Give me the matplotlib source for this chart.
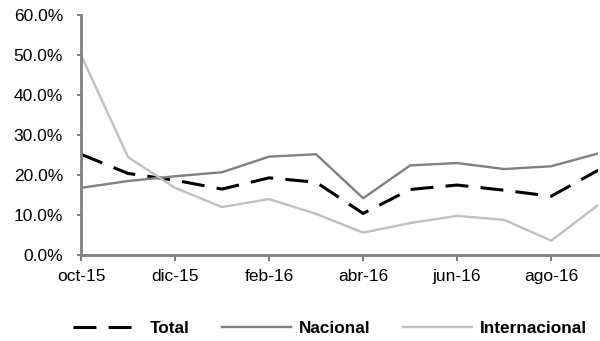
import numpy as np
import matplotlib.pyplot as plt
from matplotlib.ticker import FuncFormatter

plt.rcParams['font.family'] = ['Liberation Sans', 'DejaVu Sans']

meses = ['oct-15', 'nov-15', 'dic-15', 'ene-16', 'feb-16', 'mar-16',
         'abr-16', 'may-16', 'jun-16', 'jul-16', 'ago-16', 'sep-16']
total = [25.2, 20.4, 18.7, 16.5, 19.3, 18.2, 10.4, 16.4, 17.5, 16.2, 14.7, 21.2]
nacional = [16.8, 18.5, 19.7, 20.7, 24.6, 25.2, 14.2, 22.4, 23.0, 21.5, 22.2, 25.4]
internacional = [50.0, 24.5, 16.8, 12.0, 14.0, 10.3, 5.6, 8.0, 9.8, 8.8, 3.6, 12.5]

x = np.arange(len(meses))

fig = plt.figure(figsize=(6, 3.41), dpi=100)
ax = fig.add_axes([0.135, 0.252, 0.862, 0.704])

ax.plot(x, total, color='black', linewidth=2.2, dashes=(7.5, 4), label='Total')
ax.plot(x, nacional, color='#808080', linewidth=1.7, label='Nacional')
ax.plot(x, internacional, color='#c0c0c0', linewidth=1.7, label='Internacional')

ax.set_xlim(0, len(meses) - 1)
ax.set_ylim(0, 60)
ax.set_yticks(np.arange(0, 61, 10))
ax.yaxis.set_major_formatter(FuncFormatter(lambda v, p: '{:.1f}%'.format(v)))
ax.set_xticks(x[::2])
ax.set_xticklabels(meses[::2])

for s in ['top', 'right']:
    ax.spines[s].set_visible(False)
for s in ['left', 'bottom']:
    ax.spines[s].set_color('#808080')
    ax.spines[s].set_linewidth(2)
ax.tick_params(axis='y', length=3, width=1.5, color='#808080', labelsize=12.5, pad=10)
ax.tick_params(axis='x', length=4, width=1.5, color='#808080', labelsize=12.5, pad=6)

leg = fig.legend(loc='center', bbox_to_anchor=(0.55, 0.038), ncol=3, frameon=False,
                 handlelength=4.0, handletextpad=0.45, columnspacing=1.9,
                 prop={'weight': 'bold', 'size': 12.4})

fig.savefig('out.png', dpi=100)
